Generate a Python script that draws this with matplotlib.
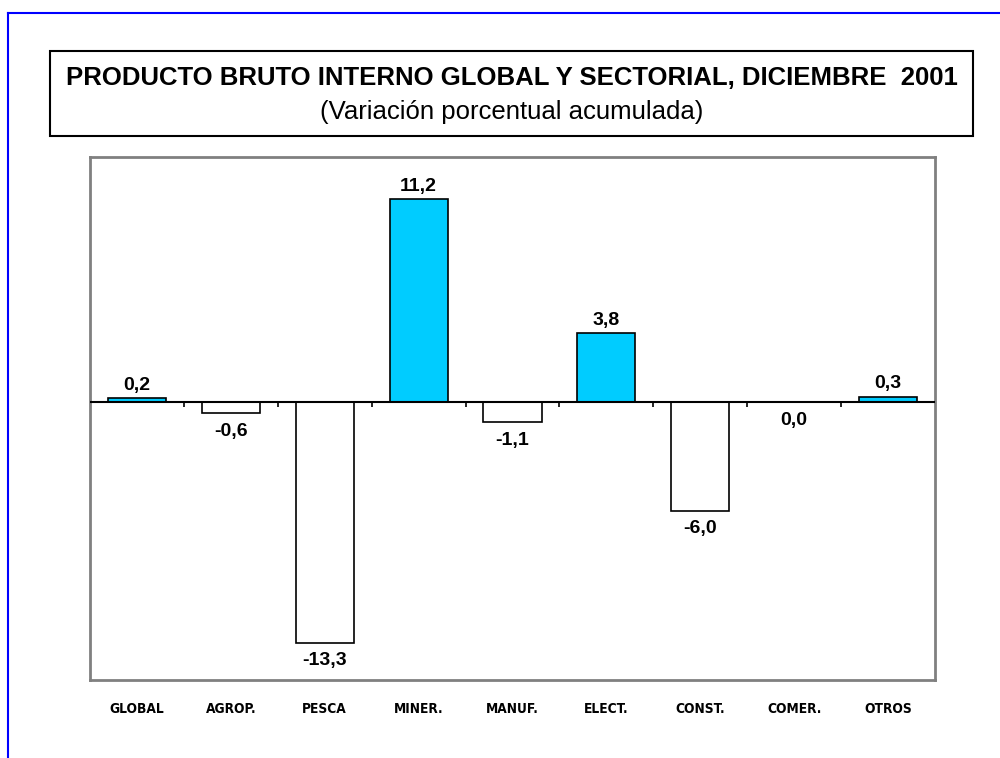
import numpy as np
import matplotlib.pyplot as plt
from matplotlib.patches import Rectangle
from matplotlib import font_manager
from matplotlib.font_manager import FontProperties

sectores = ['GLOBAL', 'AGROP.', 'PESCA', 'MINER.', 'MANUF.', 'ELECT.', 'CONST.', 'COMER.', 'OTROS']
variacion = [0.2, -0.6, -13.3, 11.2, -1.1, 3.8, -6.0, 0.0, 0.3]
etiquetas = ['0,2', '-0,6', '-13,3', '11,2', '-1,1', '3,8', '-6,0', '0,0', '0,3']

titulo = 'PRODUCTO BRUTO INTERNO GLOBAL Y SECTORIAL, DICIEMBRE  2001'
subtitulo = '(Variación porcentual acumulada)'


def fuente(archivo, tam, tam_respaldo=None):
    # busca el archivo de la fuente por nombre, si no usa DejaVu negrita
    for f in font_manager.fontManager.ttflist:
        if f.fname.split('/')[-1] == archivo:
            return FontProperties(fname=f.fname, size=tam)
    return FontProperties(family='DejaVu Sans', weight='bold', size=tam_respaldo or tam)


f_titulo = fuente('LiberationSans-Bold.ttf', 18.5)
f_sub = fuente('LiberationSans-Regular.ttf', 18.5)
f_valor = fuente('LiberationSans-Bold.ttf', 14)
f_cat = fuente('DejaVuSansCondensed-Bold.ttf', 9.8, 8.8)

fig = plt.figure(figsize=(10, 7.58), dpi=100)

# marco azul exterior (solo arriba e izquierda)
fig.add_artist(plt.Line2D([0.008, 1.0], [1 - 13 / 758, 1 - 13 / 758], color='#0000ff', lw=1.5))
fig.add_artist(plt.Line2D([0.008, 0.008], [0, 1 - 13 / 758], color='#0000ff', lw=1.5))

# caja del titulo
fig.add_artist(Rectangle((0.050, 1 - 136 / 758), 0.923, 85 / 758, transform=fig.transFigure,
                         fill=False, edgecolor='black', lw=1.5))
fig.text(0.512, 1 - 78 / 758, titulo, ha='center', va='center', fontproperties=f_titulo)
fig.text(0.512, 1 - 112 / 758, subtitulo, ha='center', va='center', fontproperties=f_sub)

ax = fig.add_axes([0.090, 78 / 758, 0.845, 523 / 758])
x = np.arange(len(sectores))
colores = ['#00ccff' if v > 0 else 'white' for v in variacion]
ax.bar(x, variacion, width=0.62, color=colores, edgecolor='black', linewidth=1.2, zorder=3)

ax.set_xlim(-0.5, len(sectores) - 0.5)
ax.set_ylim(-15.37, 13.55)

# linea de cero con marcas entre categorias
ax.axhline(0, color='black', lw=1.5, zorder=4)
ax.vlines(x[:-1] + 0.5, -0.3, 0, color='black', lw=1.2, zorder=4)

for xi, v, txt in zip(x, variacion, etiquetas):
    if v > 0:
        ax.annotate(txt, (xi, v), xytext=(0, 3), textcoords='offset points',
                    ha='center', va='bottom', fontproperties=f_valor)
    else:
        ax.annotate(txt, (xi, v), xytext=(0, -7), textcoords='offset points',
                    ha='center', va='top', fontproperties=f_valor)

ax.set_yticks([])
ax.set_xticks(x)
ax.set_xticklabels(sectores, fontproperties=f_cat)
ax.tick_params(axis='x', length=0, pad=16)
for s in ax.spines.values():
    s.set_color('#808080')
    s.set_linewidth(2)

fig.savefig('out.png', dpi=100)
